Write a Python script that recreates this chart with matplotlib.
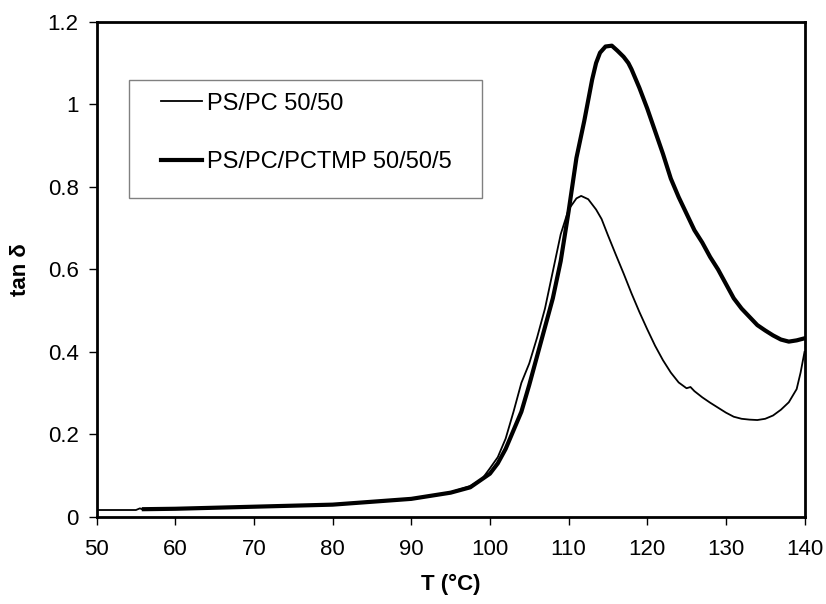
import numpy as np
import matplotlib.pyplot as plt
from matplotlib.patches import Rectangle

plt.rcParams['font.family'] = ['Liberation Sans', 'DejaVu Sans']

# PS/PC 50/50 (thin line)
t_thin = [50, 55, 55.5, 56, 60, 70, 80, 90, 95, 97.5, 99, 100, 101, 102, 103, 104, 105,
          106, 107, 108, 109, 110, 111, 111.6, 112.5, 113.5, 114.2, 115, 116, 117, 118,
          119, 120, 121, 122, 123, 124, 125, 125.5, 126, 127, 128, 129, 130, 131, 132,
          133, 134, 135, 136, 137, 138, 139, 139.5, 140]
tan_thin = [0.017, 0.017, 0.021, 0.017, 0.020, 0.025, 0.030, 0.043, 0.060, 0.075, 0.092,
            0.118, 0.145, 0.190, 0.255, 0.325, 0.372, 0.435, 0.505, 0.595, 0.685, 0.745,
            0.772, 0.778, 0.770, 0.745, 0.722, 0.683, 0.636, 0.590, 0.542, 0.497, 0.455,
            0.415, 0.380, 0.350, 0.326, 0.312, 0.315, 0.305, 0.290, 0.277, 0.265, 0.253,
            0.243, 0.238, 0.236, 0.235, 0.238, 0.246, 0.260, 0.278, 0.310, 0.350, 0.400]

# PS/PC/PCTMP 50/50/5 (thick line)
t_thick = [56, 60, 70, 80, 90, 95, 97.5, 100, 101, 102, 103, 104, 105, 106, 107, 108, 109,
           110, 111, 112, 113, 113.5, 114, 114.7, 115.5, 116.2, 117, 117.6, 118, 119, 120,
           121, 122, 123, 124, 125, 126, 127, 128, 129, 130, 131, 132, 133, 134, 135, 136,
           137, 138, 139, 140]
tan_thick = [0.019, 0.020, 0.025, 0.030, 0.044, 0.059, 0.072, 0.105, 0.130, 0.165, 0.210,
             0.255, 0.320, 0.390, 0.460, 0.530, 0.620, 0.740, 0.870, 0.960, 1.060, 1.100,
             1.125, 1.140, 1.142, 1.130, 1.115, 1.100, 1.085, 1.040, 0.990, 0.935, 0.880,
             0.820, 0.775, 0.735, 0.695, 0.665, 0.630, 0.600, 0.565, 0.530, 0.505, 0.485,
             0.465, 0.452, 0.440, 0.430, 0.425, 0.428, 0.433]

fig = plt.figure(figsize=(8.26, 6.04), dpi=100)
ax = fig.add_axes([0.117, 0.144, 0.857, 0.820])

ax.plot(t_thin, tan_thin, color='black', lw=1.3, label='PS/PC 50/50')
ax.plot(t_thick, tan_thick, color='black', lw=3.0, label='PS/PC/PCTMP 50/50/5')

ax.set_xlim(50, 140)
ax.set_ylim(0, 1.2)
ax.set_xticks(np.arange(50, 141, 10))
ax.set_yticks([0, 0.2, 0.4, 0.6, 0.8, 1, 1.2])
ax.set_yticklabels(['0', '0.2', '0.4', '0.6', '0.8', '1', '1.2'])
ax.tick_params(direction='out', length=6, width=1, labelsize=16)
ax.tick_params(axis='x', pad=10)
ax.tick_params(axis='y', pad=7)
for s in ax.spines.values():
    s.set_linewidth(2)

ax.set_xlabel('T (°C)', fontsize=16, fontweight='bold', labelpad=10)
ax.set_ylabel('tan δ', fontsize=16, fontweight='bold', labelpad=12)

# legend box
ax.add_patch(Rectangle((0.0456, 0.644), 0.499, 0.239, transform=ax.transAxes,
                       facecolor='white', edgecolor='#808080', lw=1, zorder=3))
leg = ax.legend(loc='upper left', bbox_to_anchor=(0.0909, 0.857), fontsize=17,
                frameon=False, handlelength=1.75, handletextpad=0.2,
                labelspacing=1.55, borderpad=0, borderaxespad=0)
leg.set_zorder(4)

fig.savefig('out.png', dpi=100)
